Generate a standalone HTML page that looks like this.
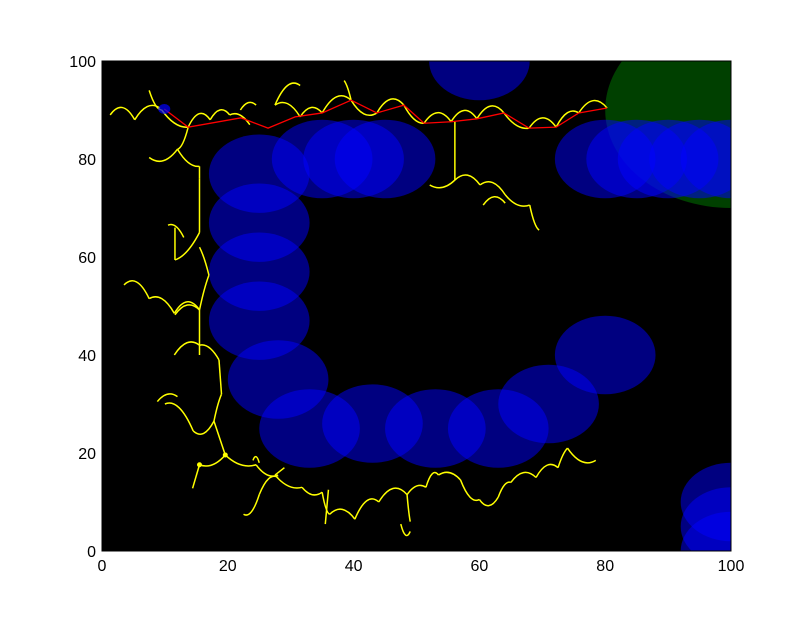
<!DOCTYPE html>
<html><head><meta charset="utf-8"><style>
body{margin:0;background:#fff;width:812px;height:612px;overflow:hidden}
svg text{font-family:"Liberation Sans",sans-serif;font-size:16px;fill:#000}
</style></head><body>
<svg id="c" width="812" height="612"></svg>
<script>
const xTicks=[0,20,40,60,80,100];
const yTicks=[0,20,40,60,80,100];
const obsX=[60,25,35,40,45,25,25,25,28,33,43,53,63,71,80,80,85,90,95,100,100,100,100];
const obsY=[100,77,80,80,80,67,57,47,35,25,26,25,25,30,40,80,80,80,80,80,10,5,0];
const obsR=8;
const goalX=[100],goalY=[90],goalR=[20];
const pathX=[9.9,13.7,22.1,26.4,30.7,35,39.6,43.7,48,51.2,55.5,59.6,63.9,67.9,72.2,75.8,80.3];
const pathY=[90.2,86.5,88.4,86.3,88.6,89.4,92,89.4,91,87.3,87.6,88.2,89.4,86.3,86.5,89.4,90.4];
const treeEdges=[
[1.3,89,5.2,88,2],[5.2,88,9.2,90.4,1.5],[7.5,94,9.5,90,-1],[9.5,90,13.7,86.5,-1],[13.7,86.5,17.2,88,2],[17.2,88,20.3,89,1.5],[20.3,89,23.5,87,1],[22,90,24.5,91,1],[27.5,91,31.5,95,2],[27.5,91,31.5,88.6,1.5],[31.5,88.6,35,89.4,1.5],[35,89.4,39.6,92,2],[38.5,96,39.6,92,0.5],[39.6,92,43.7,89.4,-1.5],[43.7,89.4,48,91,2],[48,91,51.2,87.3,-1],[51.2,87.3,55.5,87.6,2],[55.5,87.6,59.6,88.2,2],[59.6,88.2,63.9,89.4,2],[63.9,89.4,67.9,86.3,-1],[67.9,86.3,72.2,86.5,2],[72.2,86.5,75.8,89.4,1.5],[75.8,89.4,80.3,90.4,2],
[56.1,87.6,56.1,75.7,0],[52.1,74.7,56.1,75.7,-1],[56.1,75.7,60.1,74.7,1.5],[60.1,74.7,64.1,72.7,1.5],[60.6,70.6,64.1,71,1.5],[64.1,72.7,68,70.6,-1],[68,70.6,69.5,65.5,-1],
[13.7,86.5,12,82,-1],[12,82,7.5,80.3,-1.5],[12,82,15.5,78.5,-1],[15.5,78.5,15.5,76,0],[15.5,76,15.5,65,0.5],[15.5,65,11.6,59.4,-1],[11.6,59.4,11.6,66,-1.5],[10.5,66.5,13,64,1],[15.5,62,17,56.3,0.5],[17,56.3,15.5,49.2,0.5],[15.5,49.2,11.6,48.2,1.5],[15.5,49.2,15.5,40,0],[3.5,54.3,7.5,51.5,2],[7.5,51.5,11.5,48.5,1.5],[11.5,48.5,15.5,49.2,2],[11.5,40,15.5,42,1.5],[15.5,42,18.6,39,1],[18.6,39,19,32,0],[19,32,17.8,26.5,0.5],[17.8,26.5,14.5,24.5,-1.5],[14.5,24.5,10,30,2],[8.8,30.5,12,31.5,1],[17.8,26.5,19.6,19.6,0],[19.6,19.6,15.5,17.6,-1],[15.5,17.6,14.4,12.8,0],[19.6,19.6,24.5,17.6,-1],[24,18.5,25,18,1],[24.5,17.6,28,15.5,-1],[29,17,27.5,15.5,0],[27.5,15.5,31.8,13,-1],[31.8,13,35,12,-1],[35,12,36.2,7.5,-1],[36,12.5,35.5,5.5,0],[36.2,7.5,40.2,6.5,1.5],[40.2,6.5,44,10,2],[44,10,48.5,11.5,2],[48.5,11.5,49,6,-0.5],[47.5,5.5,49,4,-1.5],[48.5,11.5,51.5,13,1],[51.5,13,53.5,15.5,1.5],[53.5,15.5,57,14.5,1],[57,14.5,60,10.5,-1.5],[60,10.5,63,11,-1.5],[63,11,65,14,1],[65,14,69,15,1.5],[69,15,72.5,17,1.5],[72.5,17,74,21,0.5],[74,21,78.5,18.5,-1.5],[22.5,7.5,25,11.5,-1.5],[25,11.5,28,15,1.5]];
const dotX=[15.5,19.6],dotY=[17.6,19.6];
const startX=[9.9],startY=[90.2];

const L=102,R=731,T=61,B=551;
const sx=v=>L+(v-0)/(100)*(R-L);
const sy=v=>B-(v-0)/(100)*(B-T);
const NS="http://www.w3.org/2000/svg";
const svg=document.getElementById('c');
function mk(tag,attrs,parent){const e=document.createElementNS(NS,tag);for(const k in attrs)e.setAttribute(k,attrs[k]);(parent||svg).appendChild(e);return e;}
const defs=mk('defs',{});
const cp=mk('clipPath',{id:'clip'},defs);
mk('rect',{x:L,y:T,width:R-L,height:B-T},cp);
const bg=mk('rect',{x:L,y:T,width:R-L,height:B-T,fill:'#000'});


const g=mk('g',{'clip-path':'url(#clip)'});
goalX.forEach((x,i)=>{
  const e=mk('ellipse',{cx:sx(x),cy:sy(goalY[i]),rx:sx(goalR[i])-sx(0),ry:sy(0)-sy(goalR[i]),fill:'rgba(0,128,0,0.5)'},g);
  
  
});
obsX.forEach((x,i)=>{
  const e=mk('ellipse',{cx:sx(x),cy:sy(obsY[i]),rx:sx(obsR)-sx(0),ry:sy(0)-sy(obsR),fill:'rgba(0,0,255,0.5)'},g);
  
  
});
treeEdges.forEach(d=>{
  const [x1,y1,x2,y2,b]=d;
  const mx=(x1+x2)/2,my=(y1+y2)/2+b*2;
  const p=mk('path',{d:`M${sx(x1)},${sy(y1)} Q${sx(mx)},${sy(my)} ${sx(x2)},${sy(y2)}`,fill:'none',stroke:'#ffff00','stroke-width':1.5},g);
  
  
});
dotX.forEach((x,i)=>{
  const c=mk('circle',{cx:sx(x),cy:sy(dotY[i]),r:2.5,fill:'#ffff00'},g);
  
  
});
const pl=mk('polyline',{points:pathX.map((x,i)=>sx(x)+','+sy(pathY[i])).join(' '),fill:'none',stroke:'#ff0000','stroke-width':1.3},g);


startX.forEach((x,i)=>{
  const c=mk('ellipse',{cx:sx(x),cy:sy(startY[i]),rx:6,ry:5,fill:'rgba(0,0,255,0.7)'},g);
  
  
});
const fr=mk('rect',{x:L,y:T,width:R-L,height:B-T,fill:'none',stroke:'#000','stroke-width':1});


xTicks.forEach(v=>{
  const t=mk('text',{x:sx(v),y:B+20,'text-anchor':'middle'});t.textContent=v;
  
  
});
yTicks.forEach(v=>{
  const t=mk('text',{x:L-6,y:sy(v)+6,'text-anchor':'end'});t.textContent=v;
  
  
});
</script>
</body></html>
